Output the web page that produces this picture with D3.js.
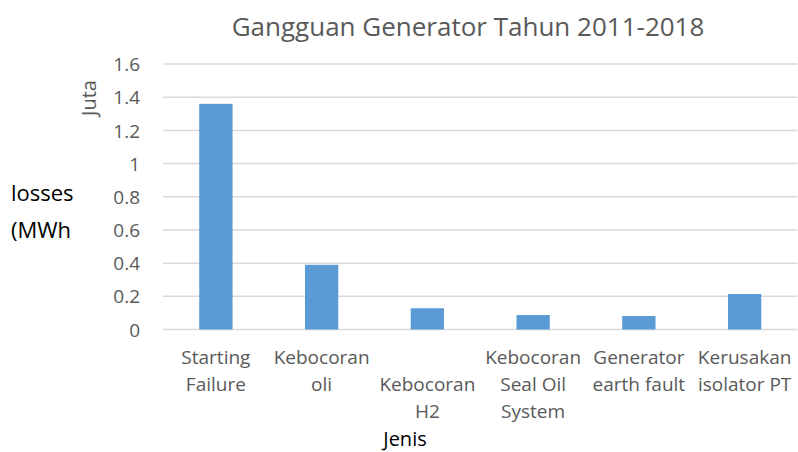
<!DOCTYPE html>
<html>
<head>
<meta charset="utf-8">
<script src="https://cdn.jsdelivr.net/npm/d3@7"></script>
<style>
  html, body { margin: 0; padding: 0; background: #fff; }
  svg { display: block; font-family: "Open Sans", sans-serif; }
</style>
</head>
<body>
<svg id="chart" width="798" height="452"></svg>
<script>
const categories = ["Starting Failure", "Kebocoran oli", "Kebocoran H2", "Kebocoran Seal Oil System", "Generator earth fault", "Kerusakan isolator PT"];
const labelLines = [["Starting", "Failure"], ["Kebocoran", "oli"], ["Kebocoran", "H2"], ["Kebocoran", "Seal Oil", "System"], ["Generator", "earth fault"], ["Kerusakan", "isolator PT"]];
const labelLineOffset = [0, 0, 1, 0, 0, 0];
const values = [1.36, 0.39, 0.128, 0.087, 0.081, 0.214];
const yTicks = [0, 0.2, 0.4, 0.6, 0.8, 1, 1.2, 1.4, 1.6];
const yTickLabels = ["0", "0.2", "0.4", "0.6", "0.8", "1", "1.2", "1.4", "1.6"];
const titleText = "Gangguan Generator Tahun 2011-2018";
const yUnitText = "Juta";
const yTitleLines = ["losses", "(MWh"];
const xTitleText = "Jenis";

const svg = d3.select("#chart");

const x = d3.scaleBand().domain(categories).range([163, 797.5]).paddingInner(0.685).paddingOuter(0.3425);
const y = d3.scaleLinear().domain([0, 1.6]).range([329.5, 64]);

// gridlines
svg.append("g").selectAll("line").data(yTicks).join("line")
  .attr("x1", 163).attr("x2", 797.5)
  .attr("y1", d => y(d)).attr("y2", d => y(d))
  .attr("stroke", "#d9d9d9").attr("stroke-width", 1.5);

// y axis labels
const yAxis = d3.axisLeft(y).tickValues(yTicks).tickSize(0).tickPadding(0)
  .tickFormat((d, i) => yTickLabels[i]);
const gy = svg.append("g").attr("transform", "translate(140,0)").call(yAxis);
gy.select(".domain").remove();
gy.selectAll("text").attr("font-size", 19).attr("fill", "#595959")
  .attr("font-family", "'Open Sans', sans-serif").attr("dy", "0.35em");

// bars
svg.append("g").selectAll("rect").data(values).join("rect")
  .attr("x", (d, i) => x(categories[i]))
  .attr("width", x.bandwidth())
  .attr("y", d => y(d))
  .attr("height", d => y(0) - y(d))
  .attr("fill", "#5b9bd5");

// x labels
const gx = svg.append("g");
categories.forEach((c, i) => {
  const cx = x(c) + x.bandwidth() / 2;
  const t = gx.append("text").attr("text-anchor", "middle")
    .attr("font-size", 19).attr("fill", "#595959");
  labelLines[i].forEach((ln, j) => {
    t.append("tspan").attr("x", cx).attr("y", 364 + (j + labelLineOffset[i]) * 27).text(ln);
  });
});

// title
svg.append("text").attr("x", 468).attr("y", 36).attr("text-anchor", "middle")
  .attr("font-size", 26).attr("fill", "#595959").text(titleText);

// Juta
svg.append("text").attr("transform", "translate(96,98) rotate(-90)")
  .attr("text-anchor", "middle").attr("font-size", 20).attr("fill", "#595959").text(yUnitText);

// y title
const yt = svg.append("text").attr("font-size", 22).attr("fill", "#000");
yTitleLines.forEach((ln, j) => {
  yt.append("tspan").attr("x", 11).attr("y", 201 + j * 37).text(ln);
});

// x title
svg.append("text").attr("x", 405).attr("y", 446).attr("text-anchor", "middle")
  .attr("font-size", 20).attr("fill", "#000").text(xTitleText);
</script>
</body>
</html>
